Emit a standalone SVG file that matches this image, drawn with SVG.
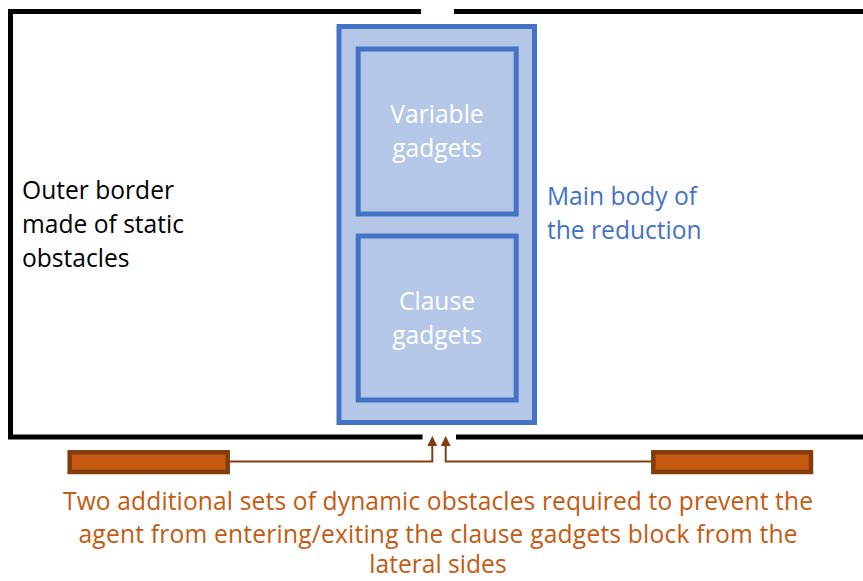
<svg xmlns="http://www.w3.org/2000/svg" width="863" height="581" viewBox="0 0 863 581">
  <style>
    text { font-family: "Open Sans", "Liberation Sans", sans-serif; font-size: 24.6px; }
    .border { fill: none; stroke: #000; stroke-width: 5; }
    .body { fill: #B4C7E7; stroke: #4472C4; stroke-width: 5; }
    .gadget-label { fill: #FFFFFF; text-anchor: middle; }
    .blue-label { fill: #4472C4; }
    .black-label { fill: #000; }
    .orange-label { fill: #C55A11; text-anchor: middle; }
    .obstacle { fill: #C55A11; stroke: #843C0C; stroke-width: 4.5; }
    .link { fill: none; stroke: #843C0C; stroke-width: 2; }
  </style>
  <defs>
    <marker id="arrow" viewBox="0 0 10 10" refX="8" refY="5" markerWidth="5" markerHeight="5" orient="auto" markerUnits="strokeWidth">
      <path d="M0,0 L10,5 L0,10 z" fill="#843C0C"/>
    </marker>
  </defs>
  <rect width="863" height="581" fill="#FFFFFF"/>

  <!-- outer static border, open at the top and bottom middle -->
  <g id="outer-border">
    <path class="border" d="M421,11.5 H10.5 V437 H422.5"/>
    <path class="border" d="M454,11.5 H863"/>
    <path class="border" d="M456,437 H863"/>
    <text class="black-label" x="22" y="199">Outer border</text>
    <text class="black-label" x="22" y="233">made of static</text>
    <text class="black-label" x="22" y="267">obstacles</text>
  </g>

  <!-- main body of the reduction -->
  <g id="main-body">
    <rect class="body" x="339" y="26.5" width="195.5" height="396"/>
    <text class="blue-label" x="547" y="205">Main body of</text>
    <text class="blue-label" x="547" y="239">the reduction</text>
  </g>

  <g id="variable-gadgets">
    <rect class="body" x="358.2" y="49" width="158" height="165"/>
    <text class="gadget-label" x="437" y="123">Variable</text>
    <text class="gadget-label" x="437" y="157">gadgets</text>
  </g>

  <g id="clause-gadgets">
    <rect class="body" x="358.2" y="236" width="158" height="164"/>
    <text class="gadget-label" x="437" y="310">Clause</text>
    <text class="gadget-label" x="437" y="344">gadgets</text>
  </g>

  <!-- dynamic obstacle sets -->
  <g id="left-obstacles">
    <rect class="obstacle" x="69.7" y="452.3" width="158" height="19.7"/>
  </g>
  <g id="right-obstacles">
    <rect class="obstacle" x="653.3" y="452.3" width="157.7" height="19.7"/>
  </g>

  <g id="connectors">
    <path class="link" d="M230,461.5 H432.3 V438" marker-end="url(#arrow)"/>
    <path class="link" d="M651,461.5 H445.7 V438" marker-end="url(#arrow)"/>
  </g>

  <g id="caption">
    <text class="orange-label" x="438" y="510" textLength="750" lengthAdjust="spacing">Two additional sets of dynamic obstacles required to prevent the</text>
    <text class="orange-label" x="438" y="543" textLength="719" lengthAdjust="spacing">agent from entering/exiting the clause gadgets block from the</text>
    <text class="orange-label" x="438" y="573">lateral sides</text>
  </g>
</svg>
